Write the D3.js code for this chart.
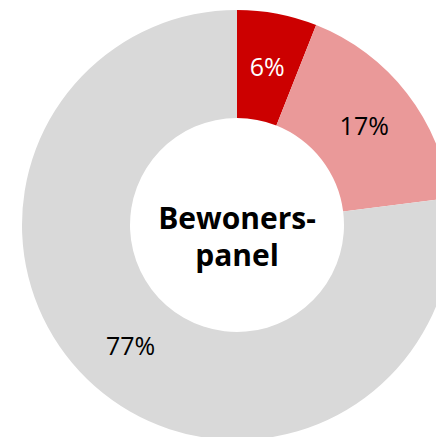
<!DOCTYPE html>
<html><head><meta charset="utf-8">
<script src="https://cdn.jsdelivr.net/npm/d3@7"></script>
<style>html,body{margin:0;padding:0;background:#fff;}</style>
</head><body>
<svg id="c" width="436" height="437"></svg>
<script>
const categories = ["A", "B", "C"];
const values = [6, 17, 77];
const labels = ["6%", "17%", "77%"];
const colors = ["#CC0000", "#EA9999", "#D9D9D9"];
const labelColors = ["#ffffff", "#000000", "#000000"];
const centerLines = ["Bewoners-", "panel"];

const svg = d3.select("#c");
const cx = 237, cy = 225, R = 215, r = 107;
const g = svg.append("g").attr("transform", `translate(${cx},${cy})`);
const pie = d3.pie().sort(null).value(d => d)(values);
const arc = d3.arc().innerRadius(r).outerRadius(R);
g.selectAll("path").data(pie).join("path")
  .attr("d", arc).attr("fill", (d,i) => colors[i]);
g.selectAll("text.l").data(pie).join("text").attr("class","l")
  .attr("transform", d => `translate(${arc.centroid(d)})`)
  .attr("text-anchor","middle").attr("dy","0.35em")
  .attr("font-family","Open Sans, sans-serif").attr("font-size",25)
  .attr("fill",(d,i)=>labelColors[i])
  .text((d,i)=>labels[i]);
g.selectAll("text.c").data(centerLines).join("text").attr("class","c")
  .attr("text-anchor","middle")
  .attr("y",(d,i)=> 4 + i*37)
  .attr("font-family","Open Sans, sans-serif").attr("font-weight","bold").attr("font-size",30)
  .attr("fill","#000").text(d=>d);
</script>
</body></html>
